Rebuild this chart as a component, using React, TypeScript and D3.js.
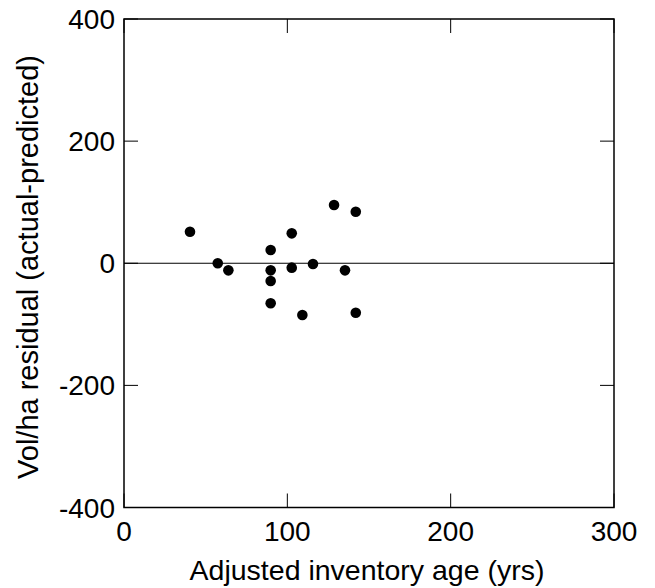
import React from "react";
import * as d3 from "d3";

const ages = [40.4, 57.4, 63.9, 89.8, 89.8, 89.8, 89.8, 102.7, 102.7, 109.2, 115.7, 128.6, 135.3, 141.9, 141.9];
const residuals = [51.7, 0, -11.6, 21.7, -11.6, -29, -65.6, 49, -7.2, -84.8, -1.2, 95.4, -11.6, 84.4, -81];
const xTicks = [0, 100, 200, 300];
const yTicks = [-400, -200, 0, 200, 400];
const xLabel = "Adjusted inventory age (yrs)";
const yLabel = "Vol/ha residual (actual-predicted)";

export default function App() {
  const W = 655, H = 588;
  const left = 124, right = 614, top = 19, bottom = 507.5;
  const x = d3.scaleLinear().domain([0, 300]).range([left, right]);
  const y = d3.scaleLinear().domain([-400, 400]).range([bottom, top]);
  const tl = 14;
  const font = "Liberation Sans, Arial, sans-serif";
  return (
    <svg width={W} height={H} style={{ position: "absolute", left: 0, top: 0 }}>
      <rect width={W} height={H} fill="#fff" />
      <rect x={left} y={top} width={right - left} height={bottom - top} fill="none" stroke="#000" strokeWidth={1.5} />
      {xTicks.map((t) => (
        <g key={"x" + t}>
          <line x1={x(t)} x2={x(t)} y1={bottom} y2={bottom - tl} stroke="#000" strokeWidth={1} />
          <line x1={x(t)} x2={x(t)} y1={top} y2={top + tl} stroke="#000" strokeWidth={1} />
          <text x={x(t)} y={541} textAnchor="middle" fontFamily={font} fontSize={28}>{t}</text>
        </g>
      ))}
      {yTicks.map((t) => (
        <g key={"y" + t}>
          <line x1={left} x2={left + tl} y1={y(t)} y2={y(t)} stroke="#000" strokeWidth={1} />
          <line x1={right} x2={right - tl} y1={y(t)} y2={y(t)} stroke="#000" strokeWidth={1} />
          <text x={115} y={y(t) + 10} textAnchor="end" fontFamily={font} fontSize={28}>{t}</text>
        </g>
      ))}
      <line x1={left} x2={right} y1={y(0)} y2={y(0)} stroke="#000" strokeWidth={1.2} />
      {ages.map((a, i) => (
        <circle key={i} cx={x(a)} cy={y(residuals[i])} r={5.3} fill="#000" />
      ))}
      <text x={367} y={580} textAnchor="middle" fontFamily={font} fontSize={28.5}>{xLabel}</text>
      <text transform={`translate(38,267) rotate(-90)`} textAnchor="middle" fontFamily={font} fontSize={29}>{yLabel}</text>
    </svg>
  );
}
